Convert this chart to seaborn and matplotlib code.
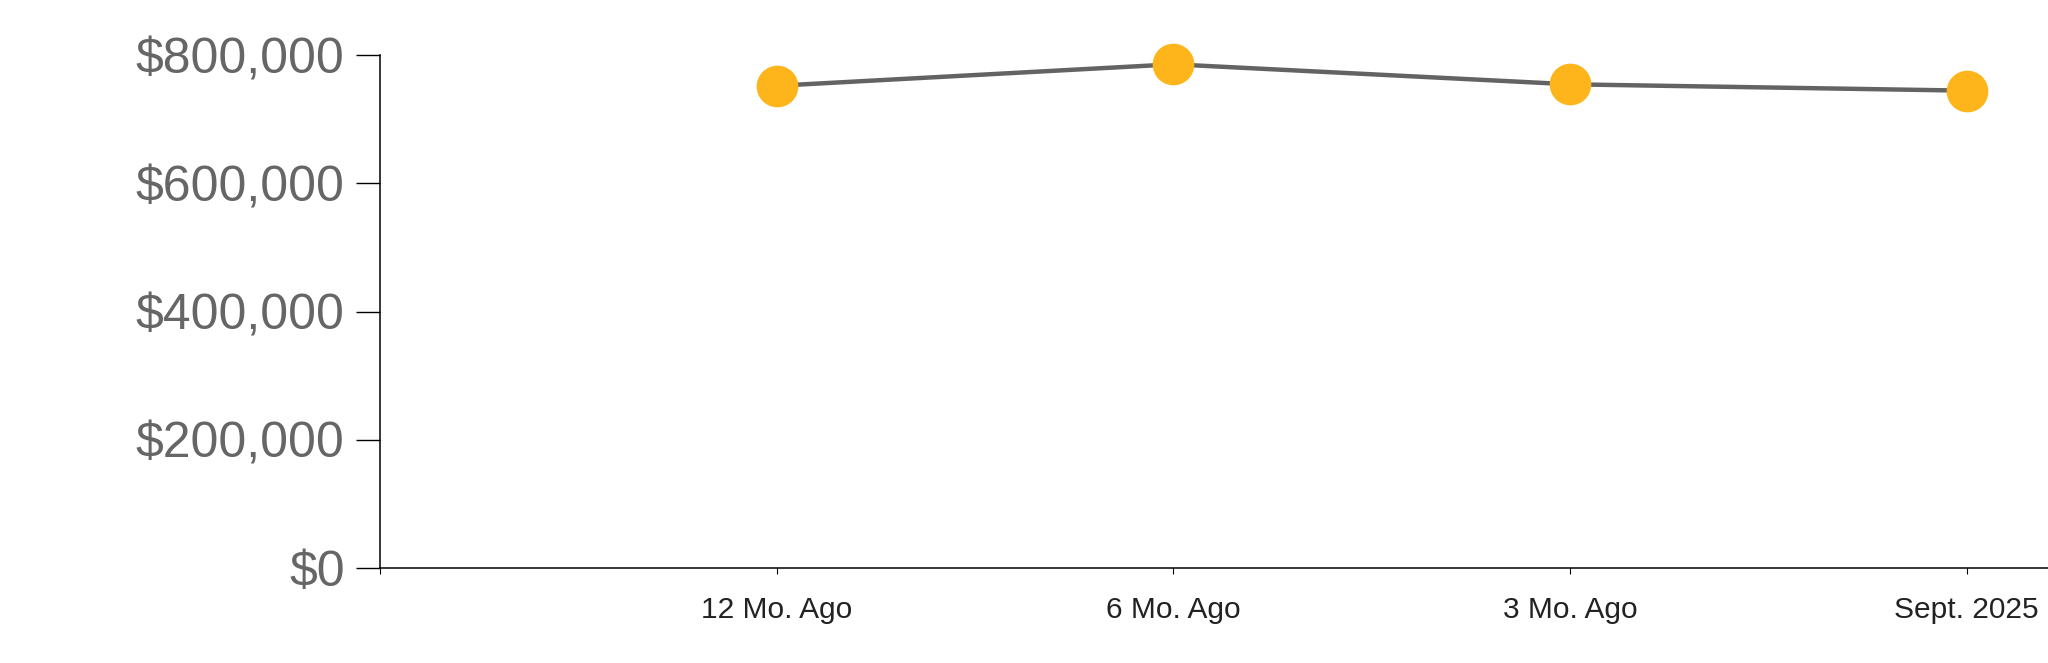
import matplotlib
matplotlib.use("Agg")
import matplotlib.pyplot as plt
import seaborn as sns
import pandas as pd
from matplotlib.ticker import FuncFormatter

periods = ["12 Mo. Ago", "6 Mo. Ago", "3 Mo. Ago", "Sept. 2025"]
prices = [752000, 785500, 754300, 744400]
y_ticks = [0, 200000, 400000, 600000, 800000]

df = pd.DataFrame({"period": periods, "price": prices, "pos": range(len(periods))})

sns.set_style("white")
plt.rcParams["font.family"] = ["Liberation Sans", "DejaVu Sans"]

fig = plt.figure(figsize=(20.48, 6.63), dpi=100)
ax = fig.add_axes([380 / 2048, (663 - 568) / 663, 1 - 380 / 2048, (568 - 55) / 663])

# line first, then the dots on top
sns.lineplot(data=df, x="pos", y="price", color="#636363", linewidth=3.2, ax=ax, zorder=2)
sns.scatterplot(data=df, x="pos", y="price", color="#FDB51B", s=900, linewidth=0,
                ax=ax, zorder=3, clip_on=False)

ax.set_xlim(-1, 3.205)
ax.set_ylim(0, 800000)
ax.set_yticks(y_ticks)
ax.yaxis.set_major_formatter(FuncFormatter(lambda v, p: f"${v:,.0f}"))
ax.set_xticks([-1] + list(df["pos"]))
ax.set_xticklabels([""] + periods)

ax.tick_params(axis="y", length=17.5, width=1, color="black", pad=8,
               labelsize=36, labelcolor="#666666", left=True)
ax.tick_params(axis="x", length=4.3, width=0.8, color="black", pad=16,
               labelsize=21.5, labelcolor="#222222", bottom=True)

for side in ["top", "right"]:
    ax.spines[side].set_visible(False)
for side in ["left", "bottom"]:
    ax.spines[side].set_color("black")
    ax.spines[side].set_linewidth(1.1)

ax.set_xlabel("")
ax.set_ylabel("")
ax.grid(False)

fig.savefig("out.png", dpi=100, facecolor="white")
